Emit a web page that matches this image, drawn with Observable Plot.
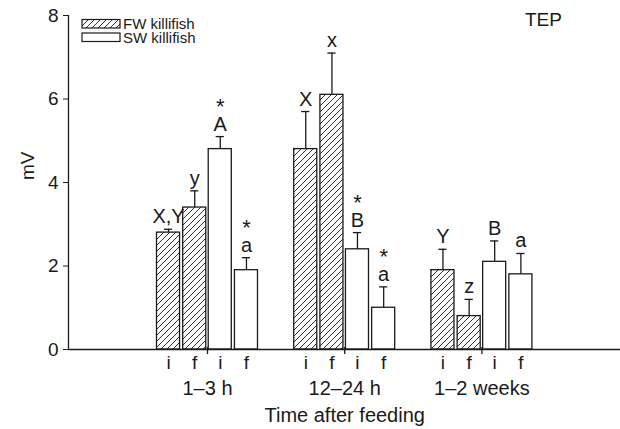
<!DOCTYPE html>
<html><head><meta charset="utf-8">
<script src="https://cdn.jsdelivr.net/npm/d3@7"></script>
<script src="https://cdn.jsdelivr.net/npm/@observablehq/plot@0.6"></script>
<style>
body{margin:0;background:#fff}
#chart svg{font-family:"Liberation Sans",Arial,sans-serif;background:#fff}
</style>
</head><body><div id="chart"></div>
<script>
const groups = ["1–3 h", "12–24 h", "1–2 weeks"];
const seriesNames = ["FW killifish", "SW killifish"];
const phases = ["i", "f"];
const fwInitial = [2.8, 4.8, 1.9];
const fwInitialErr = [0.08, 0.9, 0.5];
const fwFinal = [3.4, 6.1, 0.8];
const fwFinalErr = [0.4, 1.0, 0.4];
const swInitial = [4.8, 2.4, 2.1];
const swInitialErr = [0.3, 0.4, 0.5];
const swFinal = [1.9, 1.0, 1.8];
const swFinalErr = [0.3, 0.5, 0.5];
const fwInitialLetters = ["X,Y", "X", "Y"];
const fwFinalLetters = ["y", "x", "z"];
const swInitialLetters = ["A", "B", "B"];
const swFinalLetters = ["a", "a", "a"];
const swInitialStar = [true, true, false];
const swFinalStar = [true, true, false];
const yTicks = [0, 2, 4, 6, 8];
const yLabel = "mV";
const xLabel = "Time after feeding";
const panelLabel = "TEP";

// build table
const rows = [];
groups.forEach((g, gi) => {
  rows.push({group: g, gi, k: 0, series: seriesNames[0], phase: phases[0], value: fwInitial[gi], err: fwInitialErr[gi], letter: fwInitialLetters[gi], star: false});
  rows.push({group: g, gi, k: 1, series: seriesNames[0], phase: phases[1], value: fwFinal[gi], err: fwFinalErr[gi], letter: fwFinalLetters[gi], star: false});
  rows.push({group: g, gi, k: 2, series: seriesNames[1], phase: phases[0], value: swInitial[gi], err: swInitialErr[gi], letter: swInitialLetters[gi], star: swInitialStar[gi]});
  rows.push({group: g, gi, k: 3, series: seriesNames[1], phase: phases[1], value: swFinal[gi], err: swFinalErr[gi], letter: swFinalLetters[gi], star: swFinalStar[gi]});
});
const offsets = [-0.284, -0.093, 0.093, 0.284];
const half = 0.084;
const cx = d => d.gi + offsets[d.k];
const xMin = -1.013, xMax = 3.01;
const ink = "#1a1a1a";
const fs = 20;

const plot = Plot.plot({
  width: 620, height: 429,
  marginLeft: 68, marginRight: 0, marginTop: 15, marginBottom: 80,
  x: {domain: [xMin, xMax], axis: null},
  y: {domain: [0, 8], axis: null},
  style: {fontFamily: '"Liberation Sans", Arial, sans-serif', color: ink, background: "#fff"},
  marks: [
    Plot.rectY(rows.filter(d => d.series === seriesNames[0]), {x1: d => cx(d) - half, x2: d => cx(d) + half, y1: 0, y2: "value", fill: "url(#hatch)", stroke: ink, strokeWidth: 1.3}),
    Plot.rectY(rows.filter(d => d.series === seriesNames[1]), {x1: d => cx(d) - half, x2: d => cx(d) + half, y1: 0, y2: "value", fill: "white", stroke: ink, strokeWidth: 1.3}),
    Plot.ruleX(rows, {x: cx, y1: "value", y2: d => d.value + d.err, stroke: ink, strokeWidth: 1.3}),
    Plot.ruleY(rows, {y: d => d.value + d.err, x1: d => cx(d) - 0.03, x2: d => cx(d) + 0.03, stroke: ink, strokeWidth: 1.3}),
    Plot.ruleY([0], {x1: xMin, x2: xMax, stroke: ink, strokeWidth: 1.3}),
    Plot.ruleX([xMin], {y1: 0, y2: 8, stroke: ink, strokeWidth: 1.3}),
    Plot.axisY({ticks: yTicks, tickSize: 5, tickPadding: 5, fontSize: 19, label: null, stroke: ink}),
    Plot.ruleX(groups.map((g, i) => i), {x: d => d, y1: 0.05, y2: -0.12, stroke: ink, strokeWidth: 1.3}),
    Plot.text(rows, {x: cx, y: () => 0, text: "phase", dy: 13, fontSize: 19, fill: ink}),
    Plot.text(groups, {x: (d, i) => i, y: () => 0, text: d => d, dy: 39, fontSize: fs, fill: ink}),
    Plot.text([xLabel], {x: () => 1, y: () => 0, text: d => d, dy: 66, fontSize: fs, fill: ink}),
    Plot.text([yLabel], {x: () => xMin, y: () => 4.4, text: d => d, dx: -41, rotate: -90, fontSize: 19, fill: ink}),
    Plot.text(rows, {x: cx, y: d => d.value + d.err, text: "letter", lineAnchor: "bottom", dy: -6, fontSize: fs, fill: ink}),
    Plot.text(rows.filter(d => d.star), {x: cx, y: d => d.value + d.err, text: () => "*", lineAnchor: "bottom", dy: -23, fontSize: 22, fill: ink})
  ]
});

// hatch pattern + legend
const svg = d3.select(plot);
const defs = svg.insert("defs", ":first-child");
const pat = defs.append("pattern").attr("id", "hatch").attr("patternUnits", "userSpaceOnUse")
  .attr("width", 6).attr("height", 6);
pat.append("rect").attr("width", 6).attr("height", 6).attr("fill", "white");
pat.append("path").attr("d", "M-1,1 l2,-2 M0,6 l6,-6 M5,7 l2,-2").attr("stroke", ink).attr("stroke-width", 0.9);

const leg = svg.append("g").style("font-size", "15px").attr("fill", ink).attr("text-anchor", "start");
seriesNames.forEach((name, i) => {
  const y0 = 19.5 + i * 13.5;
  leg.append("rect").attr("x", 82).attr("y", y0).attr("width", 38).attr("height", 8.5)
    .attr("fill", i === 0 ? "url(#hatch)" : "white").attr("stroke", ink).attr("stroke-width", 1.2);
  leg.append("text").attr("x", 123).attr("y", y0 + 9.5).style("text-anchor", "start").text(name);
});

svg.append("text").attr("x", 525).attr("y", 26).style("text-anchor", "start").style("font-size", "19px")
  .attr("fill", ink).text(panelLabel);

document.getElementById("chart").append(plot);
</script>
</body></html>
